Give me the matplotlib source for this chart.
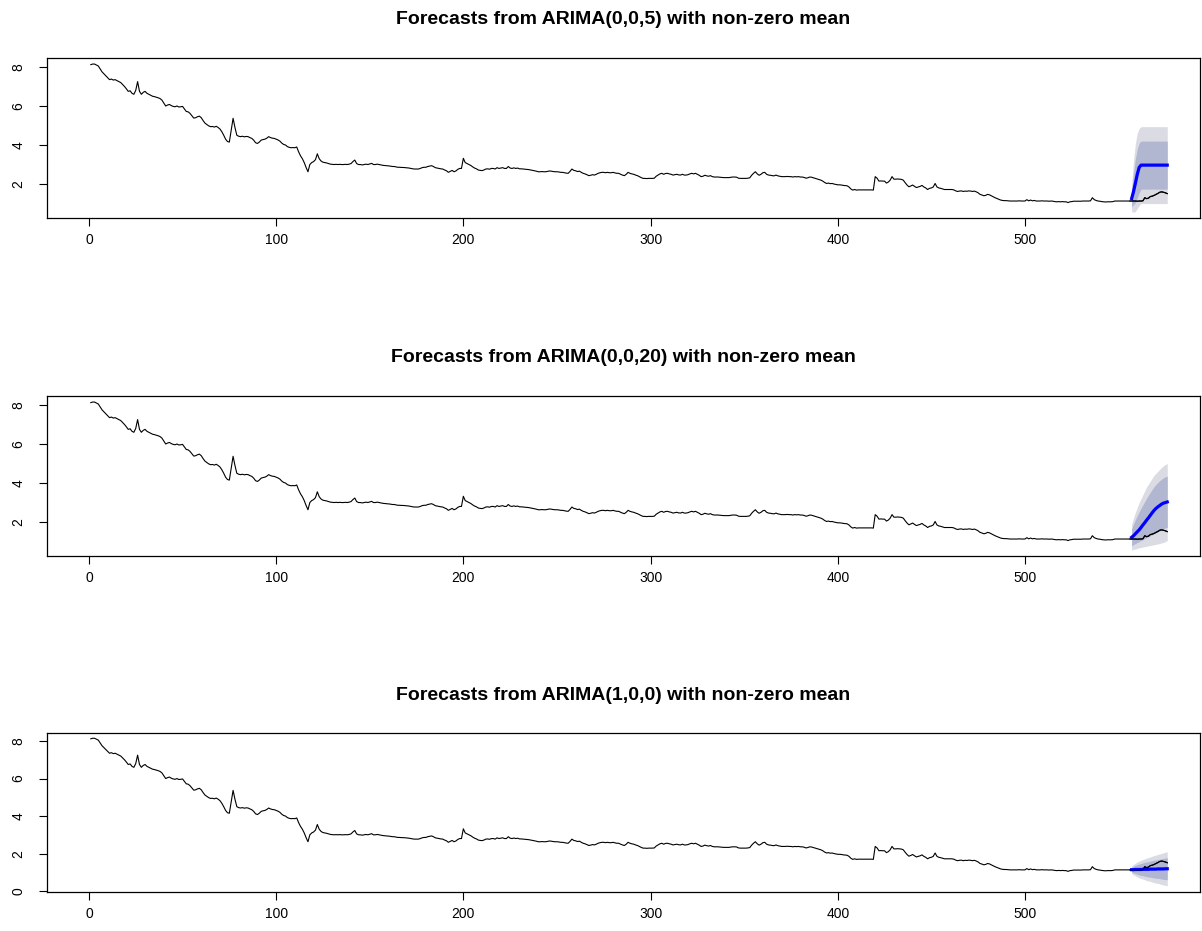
import numpy as np
import matplotlib
matplotlib.use("Agg")
import matplotlib.pyplot as plt

series = [
    8.12, 8.15, 8.15, 8.1, 8.05, 7.9, 7.75, 7.65, 7.55, 7.45, 7.35, 7.38, 7.33, 7.35, 7.3, 7.25, 7.2, 7.1, 7.0, 6.88,
    6.75, 6.78, 6.65, 6.6, 6.8, 7.25, 6.75, 6.6, 6.7, 6.75, 6.65, 6.6, 6.55, 6.5, 6.48, 6.45, 6.42, 6.38, 6.3, 6.15,
    6.0, 6.05, 6.08, 6.02, 5.98, 5.96, 6.0, 5.95, 5.96, 5.98, 5.85, 5.72, 5.7, 5.62, 5.5, 5.38, 5.4, 5.45, 5.48, 5.4,
    5.25, 5.12, 5.05, 4.98, 4.94, 4.95, 4.92, 4.96, 4.9, 4.82, 4.68, 4.5, 4.3, 4.18, 4.15, 4.75, 5.37, 4.9, 4.5, 4.45,
    4.43, 4.45, 4.42, 4.44, 4.43, 4.38, 4.34, 4.25, 4.12, 4.08, 4.15, 4.25, 4.28, 4.3, 4.35, 4.43, 4.38, 4.35, 4.34, 4.3,
    4.26, 4.2, 4.1, 4.03, 4.0, 3.92, 3.88, 3.86, 3.87, 3.86, 3.9, 3.65, 3.45, 3.3, 3.1, 2.85, 2.63, 3.0, 3.1, 3.15,
    3.25, 3.55, 3.3, 3.18, 3.12, 3.1, 3.08, 3.05, 3.02, 3.01, 3.0, 3.01, 3.0, 3.01, 3.0, 3.0, 3.01, 3.0, 3.02, 3.05,
    3.15, 3.23, 3.05, 3.0, 3.0, 2.98, 3.0, 3.02, 3.0, 3.03, 3.06, 3.0, 3.0, 3.02, 3.0, 2.98, 2.96, 2.95, 2.94, 2.93,
    2.92, 2.9, 2.9, 2.88, 2.86, 2.86, 2.85, 2.85, 2.84, 2.83, 2.82, 2.8, 2.78, 2.77, 2.77, 2.77, 2.8, 2.84, 2.86, 2.86,
    2.9, 2.92, 2.94, 2.9, 2.84, 2.82, 2.8, 2.78, 2.77, 2.72, 2.68, 2.6, 2.65, 2.7, 2.63, 2.67, 2.75, 2.8, 2.8, 3.32,
    3.1, 3.05, 3.0, 2.95, 2.88, 2.82, 2.78, 2.72, 2.7, 2.69, 2.72, 2.77, 2.78, 2.76, 2.8, 2.8, 2.77, 2.84, 2.8, 2.82,
    2.84, 2.8, 2.8, 2.9, 2.82, 2.8, 2.83, 2.8, 2.82, 2.78, 2.78, 2.77, 2.76, 2.75, 2.74, 2.72, 2.7, 2.68, 2.66, 2.63,
    2.63, 2.64, 2.63, 2.63, 2.65, 2.67, 2.66, 2.64, 2.63, 2.63, 2.62, 2.6, 2.6, 2.58, 2.56, 2.55, 2.65, 2.77, 2.7, 2.68,
    2.64, 2.66, 2.6, 2.55, 2.52, 2.48, 2.43, 2.45, 2.48, 2.46, 2.5, 2.55, 2.58, 2.6, 2.6, 2.58, 2.6, 2.58, 2.58, 2.6,
    2.57, 2.55, 2.55, 2.5, 2.46, 2.43, 2.5, 2.6, 2.55, 2.52, 2.5, 2.46, 2.43, 2.38, 2.33, 2.29, 2.29, 2.28, 2.29, 2.29,
    2.29, 2.3, 2.4, 2.46, 2.52, 2.55, 2.5, 2.54, 2.55, 2.52, 2.5, 2.46, 2.48, 2.5, 2.47, 2.46, 2.5, 2.46, 2.46, 2.48,
    2.52, 2.55, 2.52, 2.55, 2.5, 2.45, 2.38, 2.4, 2.45, 2.42, 2.4, 2.43, 2.38, 2.36, 2.36, 2.36, 2.35, 2.34, 2.33, 2.33,
    2.33, 2.33, 2.35, 2.36, 2.36, 2.35, 2.3, 2.29, 2.29, 2.29, 2.29, 2.3, 2.32, 2.45, 2.55, 2.63, 2.52, 2.45, 2.5, 2.58,
    2.6, 2.5, 2.46, 2.45, 2.43, 2.42, 2.46, 2.42, 2.4, 2.38, 2.38, 2.38, 2.39, 2.38, 2.38, 2.36, 2.38, 2.37, 2.38, 2.36,
    2.36, 2.34, 2.3, 2.32, 2.36, 2.35, 2.32, 2.29, 2.26, 2.23, 2.2, 2.15, 2.08, 2.03, 2.05, 2.02, 2.03, 2.0, 1.98, 1.96,
    1.96, 1.95, 1.93, 1.92, 1.91, 1.85, 1.75, 1.69, 1.72, 1.69, 1.7, 1.7, 1.7, 1.7, 1.7, 1.7, 1.7, 1.7, 1.69, 2.38,
    2.3, 2.15, 2.16, 2.15, 2.15, 2.05, 2.1, 2.2, 2.38, 2.25, 2.25, 2.26, 2.25, 2.24, 2.2, 2.07, 1.95, 1.86, 1.9, 1.95,
    1.88, 1.82, 1.85, 1.88, 1.93, 1.85, 1.8, 1.72, 1.78, 1.8, 1.85, 2.03, 1.85, 1.8, 1.78, 1.75, 1.72, 1.72, 1.72, 1.72,
    1.72, 1.7, 1.65, 1.62, 1.64, 1.65, 1.62, 1.64, 1.63, 1.65, 1.64, 1.62, 1.64, 1.6, 1.55, 1.47, 1.44, 1.4, 1.42, 1.47,
    1.45, 1.4, 1.35, 1.3, 1.26, 1.22, 1.18, 1.16, 1.15, 1.15, 1.14, 1.13, 1.13, 1.13, 1.13, 1.13, 1.14, 1.13, 1.13, 1.13,
    1.2, 1.14, 1.18, 1.14, 1.16, 1.13, 1.13, 1.13, 1.14, 1.13, 1.13, 1.13, 1.12, 1.13, 1.12, 1.1, 1.09, 1.1, 1.09, 1.1,
    1.09, 1.09, 1.05, 1.09, 1.1, 1.12, 1.12, 1.12, 1.12, 1.12, 1.13, 1.13, 1.13, 1.13, 1.14, 1.3, 1.2, 1.16, 1.13, 1.12,
    1.1, 1.09, 1.08, 1.09, 1.09, 1.09, 1.1, 1.13, 1.13, 1.13, 1.13, 1.13, 1.13, 1.13, 1.13, 1.13, 1.13, 1.13, 1.13, 1.12,
    1.13, 1.13, 1.14, 1.3, 1.25, 1.28, 1.36, 1.38, 1.42, 1.47, 1.52, 1.58, 1.6, 1.58, 1.55, 1.51,
]
n_train = 556

titles = [
    "Forecasts from ARIMA(0,0,5) with non-zero mean",
    "Forecasts from ARIMA(0,0,20) with non-zero mean",
    "Forecasts from ARIMA(1,0,0) with non-zero mean",
]

# forecasts h = 1..20 for each model
mean_fc = [
    [1.26, 1.62, 2.05, 2.5, 2.85, 2.97, 2.97, 2.97, 2.97, 2.97, 2.97, 2.97, 2.97, 2.97, 2.97, 2.97, 2.97, 2.97, 2.97, 2.97],
    [1.22, 1.3, 1.4, 1.5, 1.6, 1.72, 1.85, 1.97, 2.1, 2.22, 2.35, 2.48, 2.6, 2.7, 2.78, 2.85, 2.92, 2.97, 3.0, 3.03],
    [1.14, 1.14, 1.15, 1.15, 1.15, 1.15, 1.16, 1.16, 1.16, 1.16, 1.17, 1.17, 1.17, 1.17, 1.18, 1.18, 1.18, 1.18, 1.19, 1.19],
]
lo95 = [
    [0.58, 0.55, 0.6, 0.75, 0.9, 1.0, 1.0, 1.0, 1.0, 1.0, 1.0, 1.0, 1.0, 1.0, 1.0, 1.0, 1.0, 1.0, 1.0, 1.0],
    [0.55, 0.6, 0.62, 0.65, 0.68, 0.7, 0.72, 0.74, 0.76, 0.78, 0.8, 0.82, 0.84, 0.86, 0.88, 0.9, 0.93, 0.96, 1.0, 1.05],
    [0.94, 0.86, 0.81, 0.75, 0.7, 0.66, 0.64, 0.6, 0.56, 0.53, 0.52, 0.48, 0.45, 0.42, 0.41, 0.38, 0.35, 0.32, 0.31, 0.28],
]
hi95 = [
    [1.94, 3.2, 4.1, 4.6, 4.85, 4.94, 4.94, 4.94, 4.94, 4.94, 4.94, 4.94, 4.94, 4.94, 4.94, 4.94, 4.94, 4.94, 4.94, 4.94],
    [1.9, 2.2, 2.5, 2.75, 3.0, 3.2, 3.4, 3.6, 3.8, 3.95, 4.1, 4.25, 4.4, 4.5, 4.6, 4.7, 4.8, 4.88, 4.95, 5.0],
    [1.34, 1.42, 1.49, 1.55, 1.6, 1.64, 1.68, 1.72, 1.76, 1.79, 1.82, 1.86, 1.89, 1.92, 1.95, 1.98, 2.01, 2.04, 2.07, 2.1],
]
lo80 = [
    [0.82, 0.95, 1.05, 1.3, 1.55, 1.74, 1.74, 1.74, 1.74, 1.74, 1.74, 1.74, 1.74, 1.74, 1.74, 1.74, 1.74, 1.74, 1.74, 1.74],
    [0.78, 0.85, 0.9, 0.95, 1.0, 1.05, 1.1, 1.15, 1.2, 1.25, 1.3, 1.35, 1.4, 1.45, 1.5, 1.55, 1.6, 1.65, 1.7, 1.72],
    [1.01, 0.96, 0.93, 0.89, 0.86, 0.83, 0.82, 0.79, 0.77, 0.75, 0.74, 0.72, 0.7, 0.68, 0.68, 0.66, 0.64, 0.62, 0.62, 0.6],
]
hi80 = [
    [1.7, 2.55, 3.3, 3.8, 4.1, 4.2, 4.2, 4.2, 4.2, 4.2, 4.2, 4.2, 4.2, 4.2, 4.2, 4.2, 4.2, 4.2, 4.2, 4.2],
    [1.66, 1.9, 2.12, 2.33, 2.52, 2.7, 2.88, 3.05, 3.22, 3.38, 3.53, 3.68, 3.82, 3.93, 4.03, 4.12, 4.2, 4.27, 4.32, 4.35],
    [1.27, 1.32, 1.37, 1.41, 1.44, 1.47, 1.5, 1.53, 1.55, 1.57, 1.6, 1.62, 1.64, 1.66, 1.68, 1.7, 1.72, 1.74, 1.76, 1.78],
]

ylims = [(0.26, 8.46), (0.26, 8.46), (-0.05, 8.43)]
yticks = [[2, 4, 6, 8], [2, 4, 6, 8], [0, 2, 4, 6, 8]]
xticks = [0, 100, 200, 300, 400, 500]

W, H = 1202, 931
plt.rcParams['font.family'] = ['Liberation Sans', 'DejaVu Sans']
fig = plt.figure(figsize=(W / 100, H / 100), dpi=100)

# pixel boxes: (top, bottom) of each panel
boxes = [(58, 218), (396, 556), (733, 892)]
title_y = [20, 358, 695]
left, right = 47, 1200

t = np.arange(1, len(series) + 1)
y = np.array(series)
th = np.arange(n_train + 1, n_train + 21)

for k in range(3):
    top, bot = boxes[k]
    ax = fig.add_axes([left / W, 1 - bot / H, (right - left) / W, (bot - top) / H])
    ax.fill_between(th, lo95[k], hi95[k], color='#DADBE3', lw=0)
    ax.fill_between(th, lo80[k], hi80[k], color='#B1B6D1', lw=0)
    ax.plot(t, y, color='black', lw=0.8)
    ax.plot(th, mean_fc[k], color='#0000FF', lw=2.3)
    ax.plot(t[n_train - 1:], y[n_train - 1:], color='black', lw=0.8)
    ax.set_xlim(-22.4, 593.5)
    ax.set_ylim(*ylims[k])
    ax.set_xticks(xticks)
    ax.set_yticks(yticks[k])
    ax.set_yticklabels([str(v) for v in yticks[k]], rotation=90, va='center')
    ax.tick_params(axis='both', direction='out', length=5.5, width=0.8, labelsize=10)
    ax.tick_params(axis='x', pad=5)
    ax.tick_params(axis='y', pad=10)
    for s in ax.spines.values():
        s.set_linewidth(0.9)
    fig.text(0.5 * (left + right) / W, 1 - title_y[k] / H, titles[k],
             ha='center', va='center', fontsize=14, fontweight='bold')

fig.savefig('out.png', dpi=100)
